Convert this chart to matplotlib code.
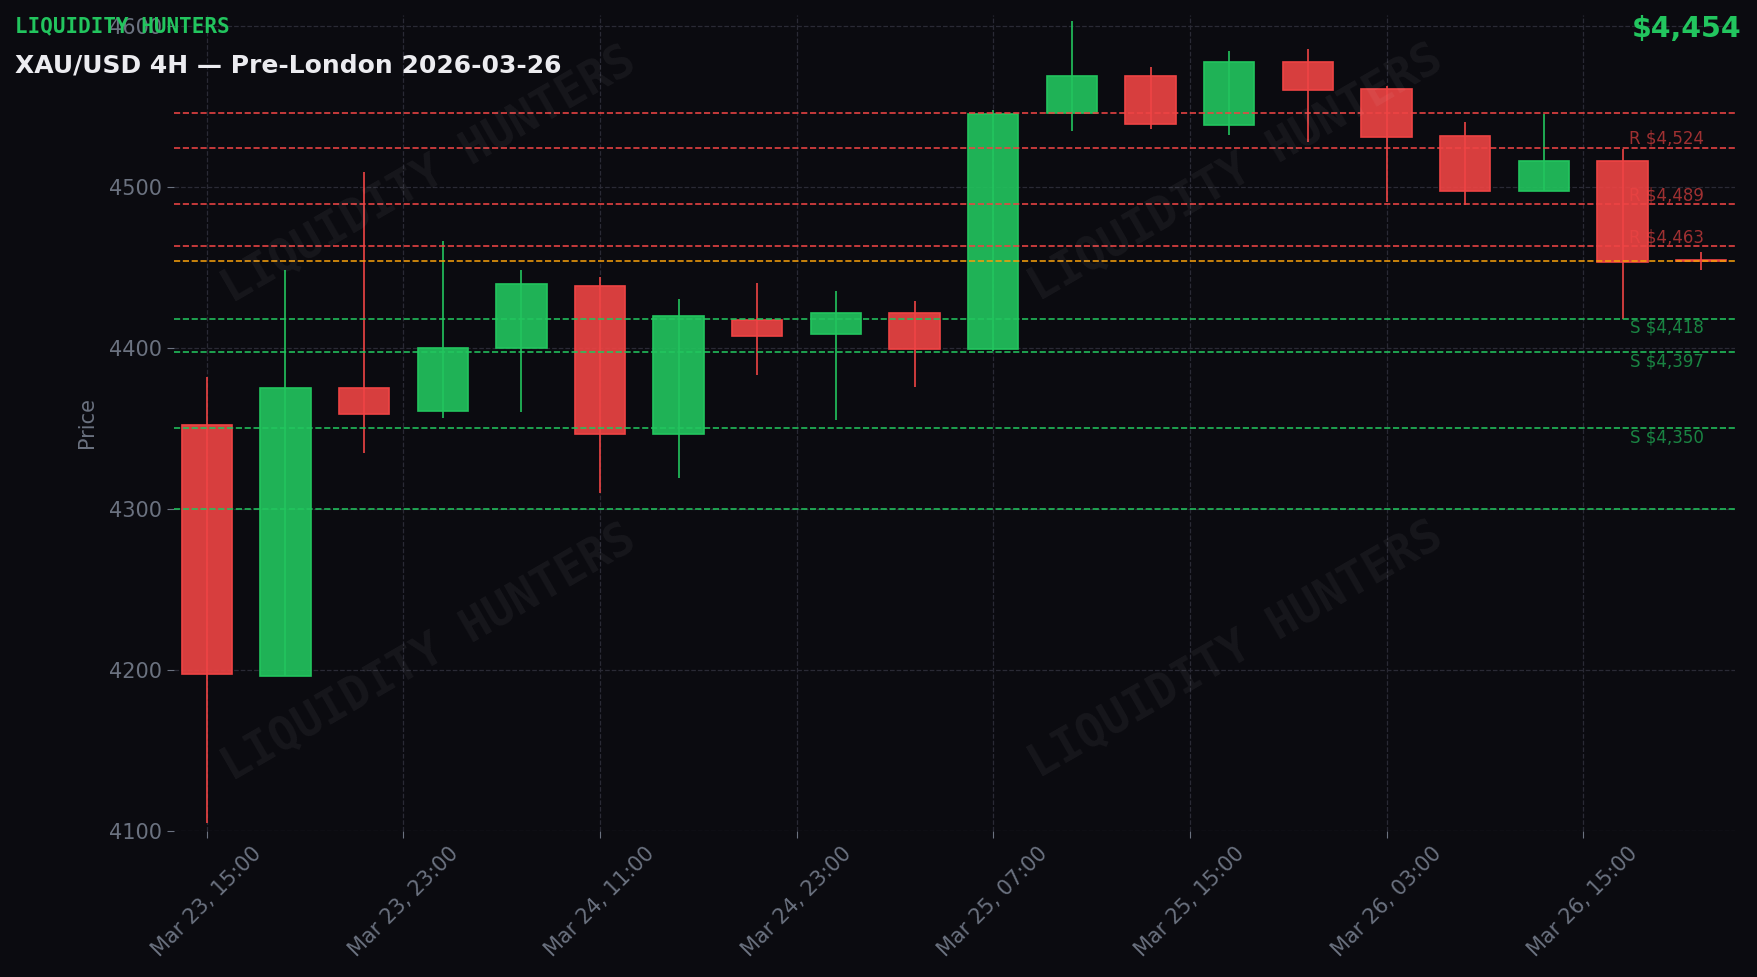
import numpy as np
import matplotlib
matplotlib.use("Agg")
import matplotlib.pyplot as plt
from matplotlib.patches import Rectangle
from matplotlib.colors import to_rgba

# candle data (4H bars)
opens = [4351.7, 4196.0, 4375.0, 4360.7, 4399.5, 4438.5, 4346.6, 4417.3, 4408.2, 4421.5,
         4399.0, 4545.6, 4568.6, 4538.0, 4577.7, 4560.5, 4531.2, 4497.5, 4515.7, 4454.5]
highs = [4382.0, 4448.5, 4509.0, 4466.3, 4448.3, 4444.0, 4430.2, 4440.0, 4435.4, 4429.0,
         4547.7, 4602.8, 4574.0, 4584.3, 4585.4, 4562.5, 4540.0, 4545.3, 4523.4, 4459.3]
lows = [4104.5, 4196.0, 4334.5, 4356.0, 4360.2, 4310.0, 4319.1, 4383.0, 4355.0, 4375.5,
        4397.8, 4534.5, 4535.8, 4532.3, 4527.9, 4490.6, 4488.6, 4497.5, 4418.1, 4448.1]
closes = [4197.0, 4375.0, 4358.6, 4400.0, 4439.4, 4346.6, 4419.7, 4407.5, 4421.5, 4399.0,
          4545.0, 4568.6, 4538.6, 4577.3, 4560.0, 4530.6, 4497.5, 4515.7, 4453.5, 4454.0]

tick_labels = ["Mar 23, 15:00", "Mar 23, 23:00", "Mar 24, 11:00", "Mar 24, 23:00",
               "Mar 25, 07:00", "Mar 25, 15:00", "Mar 26, 03:00", "Mar 26, 15:00"]

resistance = [4546, 4524, 4489, 4463]
support = [4418, 4397, 4350, 4300]
res_labelled = [4524, 4489, 4463]
sup_labelled = [4418, 4397, 4350]
current_price = 4454

BG = "#0b0b10"
GREEN = "#22c55e"
RED = "#ef4444"
ORANGE = "#f59e0b"
GRAY = "#6b7280"

fig = plt.figure(figsize=(17.58, 9.77), dpi=100, facecolor=BG)
ax = fig.add_axes([174/1758, 1 - 831/977, (1735 - 174)/1758, (831 - 15)/977])
ax.set_facecolor(BG)

n = len(opens)
w = 0.64
for i in range(n):
    o, h, l, c = opens[i], highs[i], lows[i], closes[i]
    col = GREEN if c > o else RED
    ax.vlines(i, l, h, color=col, lw=1.2, zorder=2)
    body = max(abs(c - o), 0.4)
    ax.add_patch(Rectangle((i - w/2, min(o, c)), w, body,
                           facecolor=to_rgba(col, 0.9), edgecolor=col, lw=1.2, zorder=2))

# levels
for lv in resistance:
    ax.axhline(lv, color=RED, ls="--", lw=1.2, alpha=0.95, zorder=3)
for lv in support:
    ax.axhline(lv, color=GREEN, ls="--", lw=1.2, alpha=0.95, zorder=3)
ax.axhline(current_price, color=ORANGE, ls="--", lw=1.2, alpha=0.95, zorder=3)

for lv in res_labelled:
    ax.text(n - 0.96, lv, r"R \${:,.0f}".format(lv), color=RED, alpha=0.65,
            fontsize=12, ha="right", va="bottom", zorder=4)
for lv in sup_labelled:
    ax.text(n - 0.96, lv, r"S \${:,.0f}".format(lv), color=GREEN, alpha=0.65,
            fontsize=12, ha="right", va="top", zorder=4)

ax.set_xlim(-0.416, 19.43)
ax.set_ylim(4099.8, 4606.6)
ax.set_yticks(np.arange(4100, 4601, 100))
ax.set_xticks(np.arange(0, n, 2.5))
ax.set_xticklabels(tick_labels, rotation=45)
ax.tick_params(colors=GRAY, labelsize=15, length=5)
ax.set_ylabel("Price", color=GRAY, fontsize=15, labelpad=9)
for s in ax.spines.values():
    s.set_visible(False)
ax.grid(True, color="#2a2a35", ls="--", lw=0.9, zorder=0)
ax.set_axisbelow(True)

# headers
fig.text(0.0085, 0.9836, "LIQUIDITY HUNTERS", family="DejaVu Sans Mono", weight="bold",
         color=GREEN, fontsize=15, va="top")
fig.text(0.0085, 0.9457, "XAU/USD 4H — Pre-London 2026-03-26", weight="bold",
         color="#ececf0", fontsize=18, va="top")
fig.text(0.9903, 0.985, r"\${:,.0f}".format(current_price), weight="bold", color=GREEN,
         fontsize=20.5, ha="right", va="top")

# watermark
for (x, y) in [(0.244, 0.82), (0.703, 0.823), (0.244, 0.331), (0.703, 0.334)]:
    fig.text(x, y, "LIQUIDITY HUNTERS", family="DejaVu Sans Mono", weight="bold",
             fontsize=33, color="white", alpha=0.05, rotation=30,
             ha="center", va="center")

fig.savefig("out.png", dpi=100, facecolor=BG)
